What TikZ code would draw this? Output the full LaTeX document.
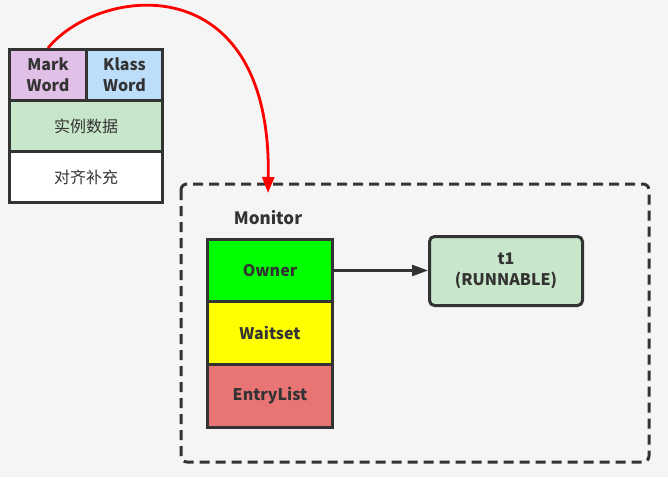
\documentclass[tikz,border=0pt]{standalone}
\usepackage{fontspec}
\setmainfont{Noto Sans CJK SC}
\usetikzlibrary{arrows.meta}
\definecolor{bg}{HTML}{F5F5F5}
\definecolor{ink}{HTML}{333333}
\definecolor{markc}{HTML}{E1C0E8}
\definecolor{klassc}{HTML}{BDDEFA}
\definecolor{greenc}{HTML}{C8E6C9}
\definecolor{ownerc}{HTML}{00FF00}
\definecolor{waitc}{HTML}{FFFF00}
\definecolor{entryc}{HTML}{E87474}
\tikzset{
  cell/.style={draw=ink, line width=3pt, text=ink, font=\fontsize{16}{21}\selectfont\bfseries, align=center, inner sep=0pt},
  cjkcell/.style={cell, font=\fontsize{16}{21}\selectfont},
}
\begin{document}
\begin{tikzpicture}[x=1pt,y=-1pt]
\fill[bg] (0,0) rectangle (668,477);
\useasboundingbox (0,0) rectangle (668,477);
% object header
\node[cell, fill=markc, minimum width=77pt, minimum height=51pt, anchor=north west] (mark) at (8,48) {Mark\\Word};
\node[cell, fill=klassc, minimum width=76pt, minimum height=51pt, anchor=north west] (klass) at (85,48) {Klass\\Word};
\node[cjkcell, fill=greenc, minimum width=153pt, minimum height=51pt, anchor=north west] (data) at (8,99) {实例数据};
\node[cjkcell, fill=white, minimum width=153pt, minimum height=51pt, anchor=north west] (pad) at (8,150) {对齐补充};
% monitor
\draw[ink, line width=3pt, dash pattern=on 10pt off 6pt, rounded corners=6pt] (181,184) rectangle (649,462);
\node[text=ink, font=\fontsize{17}{20}\selectfont\bfseries] (mon) at (268,218) {Monitor};
\node[cell, fill=ownerc, minimum width=125pt, minimum height=62pt, anchor=north west] (owner) at (206,238) {Owner};
\node[cell, fill=waitc, minimum width=125pt, minimum height=63pt, anchor=north west] (wait) at (206,300) {Waitset};
\node[cell, fill=entryc, minimum width=125pt, minimum height=63pt, anchor=north west] (entry) at (206,363) {EntryList};
\node[cell, fill=greenc, rounded corners=5pt, minimum width=153pt, minimum height=69pt, anchor=north west] (t1) at (428,235) {t1\\(RUNNABLE)};
\coordinate (tip) at (268,193);
\draw[ink, line width=2.5pt, -{Triangle[length=16pt,width=11pt]}] (owner.east) -- (owner.east -| t1.west);
\draw[red, line width=2.8pt, -{Triangle[length=16pt,width=12pt]}] (mark.north) .. controls (100,-15) and (272,-35) .. (tip);
\end{tikzpicture}
\end{document}
